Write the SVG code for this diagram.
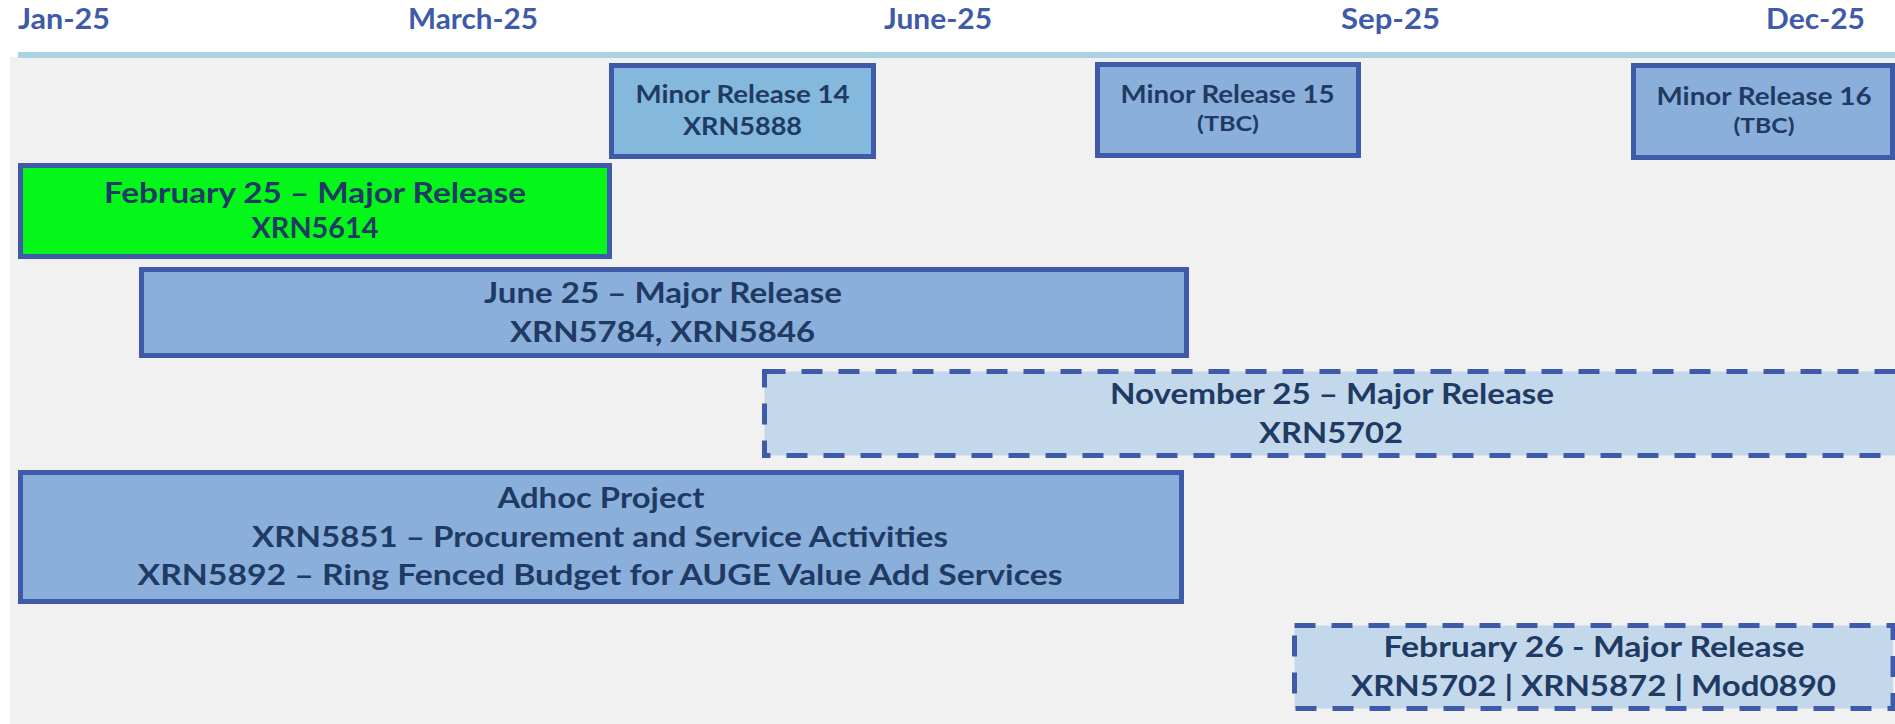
<svg xmlns="http://www.w3.org/2000/svg" width="1895" height="724" viewBox="0 0 1895 724">
<style>
.axis{font-family:Lato,"Liberation Sans",sans-serif;font-weight:bold;font-size:28px;fill:#3f5aa8}
.box{stroke:#3f5aa9;stroke-width:5}
.dash{stroke-dasharray:21 16}
.t{font-family:Lato,"Liberation Sans",sans-serif;font-weight:bold;fill:#1f3a63;text-anchor:middle}
.big{font-size:29px}
.mid{font-size:25px}
.sm{font-size:21px}
</style>
<rect x="0" y="0" width="1895" height="724" fill="#ffffff"/>
<rect x="10" y="57" width="1885" height="667" fill="#f1f1f1"/>
<rect x="18" y="52" width="1877" height="6" fill="#abd1e3"/>
<g id="axis">
<text class="axis" x="18" y="29" textLength="92" lengthAdjust="spacingAndGlyphs">Jan-25</text>
<text class="axis" x="408" y="29" textLength="130" lengthAdjust="spacingAndGlyphs">March-25</text>
<text class="axis" x="884" y="29" textLength="108" lengthAdjust="spacingAndGlyphs">June-25</text>
<text class="axis" x="1341" y="29" textLength="99" lengthAdjust="spacingAndGlyphs">Sep-25</text>
<text class="axis" x="1766" y="29" textLength="99" lengthAdjust="spacingAndGlyphs">Dec-25</text>
</g>
<g id="minor14">
<rect class="box" x="611.5" y="65.5" width="262" height="91" fill="#84b8dc"/>
<text class="t mid" x="742.5" y="103" textLength="214" lengthAdjust="spacingAndGlyphs">Minor Release 14</text>
<text class="t mid" x="742.5" y="135" textLength="119" lengthAdjust="spacingAndGlyphs">XRN5888</text>
</g>
<g id="minor15">
<rect class="box" x="1097.5" y="64.5" width="261" height="91" fill="#8aafdb"/>
<text class="t mid" x="1227.5" y="103" textLength="214" lengthAdjust="spacingAndGlyphs">Minor Release 15</text>
<text class="t sm" x="1228" y="131" textLength="62" lengthAdjust="spacingAndGlyphs">(TBC)</text>
</g>
<g id="minor16">
<rect class="box" x="1633.5" y="65.5" width="259" height="92" fill="#8aafdb"/>
<text class="t mid" x="1764" y="105" textLength="215" lengthAdjust="spacingAndGlyphs">Minor Release 16</text>
<text class="t sm" x="1764" y="133" textLength="61" lengthAdjust="spacingAndGlyphs">(TBC)</text>
</g>
<g id="feb25">
<rect class="box" x="20.5" y="165.5" width="589" height="91" fill="#05f71a"/>
<text class="t big" x="315" y="203" textLength="422" lengthAdjust="spacingAndGlyphs">February 25 – Major Release</text>
<text class="t big" x="315" y="238" textLength="127" lengthAdjust="spacingAndGlyphs">XRN5614</text>
</g>
<g id="jun25">
<rect class="box" x="141.5" y="269.5" width="1045" height="86" fill="#8aafdb"/>
<text class="t big" x="663" y="303" textLength="358" lengthAdjust="spacingAndGlyphs">June 25 – Major Release</text>
<text class="t big" x="662.5" y="342" textLength="305" lengthAdjust="spacingAndGlyphs">XRN5784, XRN5846</text>
</g>
<g id="nov25">
<rect class="box dash" x="764.5" y="371.5" width="1145" height="84" fill="#c4d8ec"/>
<text class="t big" x="1332" y="404" textLength="444" lengthAdjust="spacingAndGlyphs">November 25 – Major Release</text>
<text class="t big" x="1331" y="443" textLength="144" lengthAdjust="spacingAndGlyphs">XRN5702</text>
</g>
<g id="adhoc">
<rect class="box" x="20.5" y="472.5" width="1161" height="129" fill="#8aafdb"/>
<text class="t big" x="601" y="508" textLength="207" lengthAdjust="spacingAndGlyphs">Adhoc Project</text>
<text class="t big" x="600" y="547" textLength="696" lengthAdjust="spacingAndGlyphs">XRN5851 – Procurement and Service Activities</text>
<text class="t big" x="600" y="585" textLength="925" lengthAdjust="spacingAndGlyphs">XRN5892 – Ring Fenced Budget for AUGE Value Add Services</text>
</g>
<g id="feb26">
<rect class="box dash" x="1294.5" y="625.5" width="598.5" height="83" fill="#c4d8ec"/>
<text class="t big" x="1594" y="657" textLength="421" lengthAdjust="spacingAndGlyphs">February 26 - Major Release</text>
<text class="t big" x="1593.5" y="696" textLength="485" lengthAdjust="spacingAndGlyphs">XRN5702 | XRN5872 | Mod0890</text>
</g>
<g id="connectors"></g>
</svg>
